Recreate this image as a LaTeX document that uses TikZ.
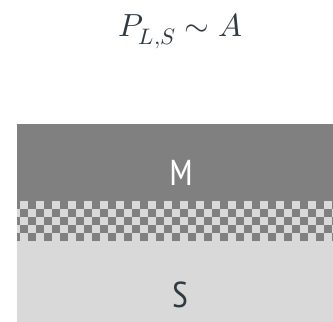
\documentclass[tikz,border=0pt]{standalone}
\usepackage{fontspec}
\usepackage{unicode-math}
\setmathfont{Latin Modern Math}
\newfontfamily\labelfont{PT Sans Narrow}
\definecolor{darkg}{HTML}{808080}
\definecolor{lightg}{HTML}{D9D9D9}
\definecolor{ink}{HTML}{2F3B40}
\begin{document}
\begin{tikzpicture}[x=1pt,y=-1pt,
  lbl/.style={font=\labelfont\fontsize{36}{40}\selectfont, anchor=base, inner sep=0pt}]
\useasboundingbox (0,0) rectangle (333,322);
\clip (0,0) rectangle (333,322);
% layers
\fill[darkg] (17,124) rectangle (344,201);
\fill[darkg] (17,201) rectangle (344,241);
\fill[lightg] (17,241) rectangle (344,330);
\begin{scope}
\clip (17,201) rectangle (344,241);
\foreach \r in {0,...,4} {
  \foreach \k in {-1,...,40} {
    \pgfmathtruncatemacro{\pp}{mod(\r+\k+10,2)}
    \ifnum\pp=0
      \fill[lightg] ({20+8*\k},{201+8*\r}) rectangle ++(8,8);
    \fi
  }
}
\end{scope}
\node[lbl, text=white] (m) at (181,185) {M};
\node[lbl, text=ink] (s) at (180,307.3) {S};
\node[anchor=base, inner sep=0pt, text=ink, font=\fontsize{32}{38}\selectfont] (t) at (180.5,36.7) {$P_{L,S}\sim A$};
\end{tikzpicture}
\end{document}
